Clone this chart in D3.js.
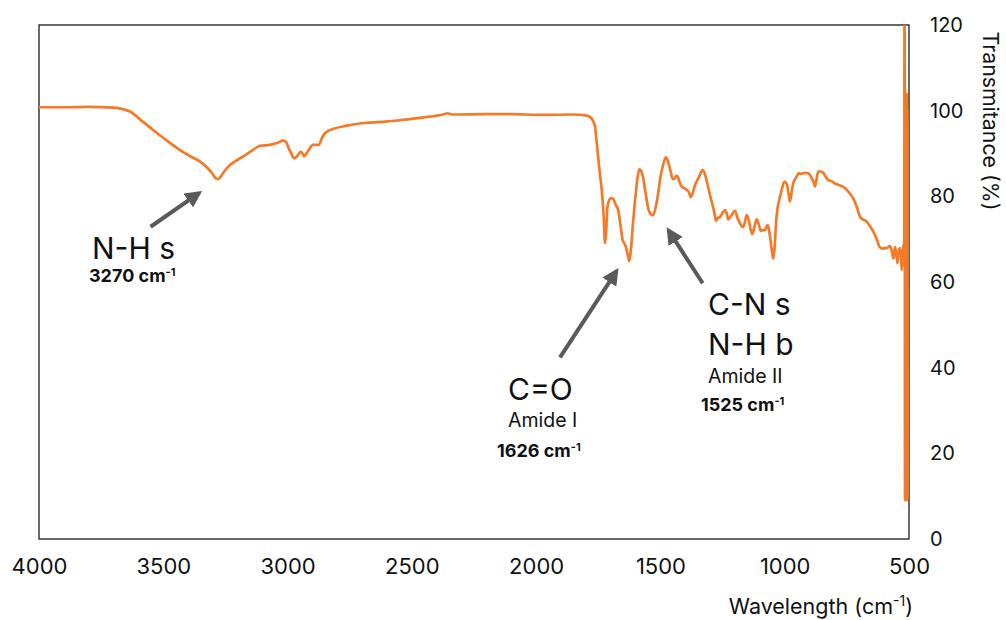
<!DOCTYPE html>
<html>
<head>
<meta charset="utf-8">
<script src="https://cdn.jsdelivr.net/npm/d3@7"></script>
<style>
  body { margin: 0; background: #fff; }
  svg { display: block; font-family: Inter, "Noto Sans", sans-serif; }
</style>
</head>
<body>
<svg id="chart" width="1006" height="620"></svg>
<script>
// Spectre FTIR : nombre d'onde (cm-1) et transmittance (%)
var wavenumbers = [
  4000, 3900, 3800, 3700, 3660, 3634, 3590, 3541, 3490, 3433, 3390, 3352, 3320, 3305, 3290, 3281,
  3270, 3255, 3232, 3205, 3179, 3140, 3111, 3071, 3040, 3018, 3005, 2998, 2985, 2974, 2962, 2947,
  2940, 2934, 2915, 2898, 2874, 2862, 2849, 2817, 2760, 2709, 2620, 2560, 2470, 2375, 2355, 2340,
  2200, 2100, 1984, 1852, 1800, 1783, 1770, 1763, 1757, 1751, 1743, 1736, 1728, 1723, 1718, 1714,
  1710, 1700, 1690, 1680, 1670, 1660, 1652, 1645, 1639, 1632, 1625, 1618, 1610, 1602, 1593, 1585,
  1578, 1569, 1559, 1549, 1538, 1529, 1520, 1509, 1500, 1491, 1478, 1470, 1459, 1452, 1445, 1438,
  1432, 1422, 1415, 1405, 1394, 1385, 1378, 1370, 1361, 1345, 1330, 1318, 1307, 1297, 1287, 1281,
  1276, 1268, 1260, 1250, 1240, 1233, 1227, 1215, 1200, 1190, 1180, 1167, 1160, 1153, 1145, 1138,
  1130, 1122, 1113, 1105, 1097, 1087, 1079, 1070, 1064, 1059, 1052, 1046, 1040, 1035, 1028, 1022,
  1012, 1002, 995, 990, 984, 979, 972, 966, 955, 943, 935, 925, 915, 905, 891, 885,
  878, 872, 865, 855, 845, 835, 825, 810, 798, 780, 757, 740, 724, 710, 697, 685,
  670, 657, 643, 630, 617, 607, 597, 587, 577, 570, 563, 556, 551, 547, 541, 536,
  532, 529, 526, 523, 521, 519, 518, 517, 516, 515, 514, 513, 512, 511, 510, 509,
  508, 507, 506, 505
]
var transmittance = [
  100.8, 100.8, 100.9, 100.7, 100.3, 99.8, 97.8, 95.5, 93.2, 90.8, 89.3, 88.1, 86.5, 85.5, 84.3, 84.0,
  84.5, 85.8, 87.3, 88.4, 89.3, 90.8, 91.8, 92.0, 92.5, 93.0, 92.6, 91.6, 90.0, 88.9, 89.3, 90.4,
  90.0, 89.4, 90.8, 92.0, 92.0, 93.6, 94.8, 95.7, 96.5, 97.0, 97.4, 97.7, 98.3, 99.1, 99.4, 99.1,
  99.2, 99.2, 99.0, 99.1, 98.9, 98.5, 97.5, 96.3, 93.0, 89.3, 85.0, 81.5, 75.0, 69.1, 72.0, 77.0,
  78.4, 79.6, 79.4, 78.0, 76.8, 73.0, 69.8, 69.0, 68.2, 66.5, 64.9, 68.0, 74.0, 79.1, 84.0, 86.3,
  86.0, 84.2, 80.5, 77.2, 75.8, 75.6, 77.2, 80.7, 84.5, 86.9, 89.1, 88.2, 85.8, 84.2, 84.0, 84.7,
  84.7, 83.2, 82.3, 81.9, 81.5, 80.9, 79.8, 80.8, 82.6, 84.5, 86.1, 84.6, 81.9, 79.5, 77.2, 75.5,
  74.3, 75.0, 75.2, 76.2, 76.8, 76.0, 74.6, 75.5, 76.6, 75.0, 73.7, 72.8, 74.0, 75.6, 74.5, 72.5,
  71.2, 72.8, 74.6, 73.6, 72.0, 72.1, 72.1, 73.3, 72.5, 70.6, 67.5, 65.5, 68.5, 73.7, 77.5, 79.1,
  81.5, 83.4, 83.2, 82.6, 80.5, 78.8, 81.0, 83.0, 84.3, 85.4, 85.2, 85.4, 85.5, 85.4, 84.2, 83.5,
  82.3, 84.0, 85.8, 85.8, 85.5, 84.6, 83.8, 83.5, 83.0, 82.6, 81.9, 80.8, 79.5, 77.5, 75.2, 74.6,
  74.1, 73.0, 71.7, 70.0, 68.1, 67.8, 67.9, 68.0, 68.4, 67.5, 65.5, 68.2, 66.5, 64.4, 67.2, 67.9,
  65.5, 62.8, 66.0, 68.6, 67.5, 64.0, 125, 106, 9, 104, 11, 101, 10, 98, 12, 104,
  9, 100, 10, 40
]

var xTicks = [4000, 3500, 3000, 2500, 2000, 1500, 1000, 500]
var yTicks = [0, 20, 40, 60, 80, 100, 120]

// Annotations : pointe et queue de flèche en unités de données
var peakLabels = [
  { lines: ['N-H s'], sub: null, value: '3270', tipW: 3355, tipT: 80.8, tailW: 3551, tailT: 72.9 },
  { lines: ['C=O'], sub: 'Amide I', value: '1626', tipW: 1676, tipT: 62.6, tailW: 1904, tailT: 42.4 },
  { lines: ['C-N s', 'N-H b'], sub: 'Amide II', value: '1525', tipW: 1468, tipT: 72.1, tailW: 1330, tailT: 59.7 }
]

// Dimensions du graphique
var width = 1006
var height = 620
var margin = { top: 25, right: 97, bottom: 81, left: 39 }
var graphWidth = width - margin.left - margin.right
var graphHeight = height - margin.top - margin.bottom

var lineColor = '#f47a27'
var arrowColor = '#5a5a5a'

var svg = d3.select('#chart')

var xScale = d3.scaleLinear().domain([4000, 500]).range([0, graphWidth])
var yScale = d3.scaleLinear().domain([0, 120]).range([graphHeight, 0])

var graph = svg.append('g')
  .attr('transform', 'translate(' + margin.left + ',' + margin.top + ')')

svg.append('defs').append('clipPath')
  .attr('id', 'plot-clip')
  .append('rect')
  .attr('width', graphWidth)
  .attr('height', graphHeight)

svg.select('defs').append('marker')
  .attr('id', 'arrow-head')
  .attr('viewBox', '0 0 10 10')
  .attr('refX', 8)
  .attr('refY', 5)
  .attr('markerWidth', 4.2)
  .attr('markerHeight', 4.2)
  .attr('markerUnits', 'strokeWidth')
  .attr('orient', 'auto')
  .append('path')
  .attr('d', 'M0,0 L10,5 L0,10 z')
  .attr('fill', arrowColor)

// Cadre
graph.append('rect')
  .attr('width', graphWidth)
  .attr('height', graphHeight)
  .attr('fill', 'none')
  .attr('stroke', '#1a1a1a')
  .attr('stroke-width', 1.3)

// Courbe
var points = wavenumbers.map(function (w, i) { return { w: w, t: transmittance[i] } })
var line = d3.line()
  .x(function (d) { return xScale(d.w) })
  .y(function (d) { return yScale(d.t) })
  .curve(d3.curveMonotoneX)

graph.append('path')
  .datum(points)
  .attr('clip-path', 'url(#plot-clip)')
  .attr('d', line)
  .attr('fill', 'none')
  .attr('stroke', lineColor)
  .attr('stroke-width', 2.7)
  .attr('stroke-linejoin', 'round')

// Axe des abscisses
var xAxis = graph.append('g')
  .attr('class', 'x-axis')
  .attr('transform', 'translate(0,' + graphHeight + ')')
  .call(d3.axisBottom(xScale).tickValues(xTicks).tickSize(0).tickPadding(19.5).tickFormat(d3.format('d')))
xAxis.select('.domain').remove()
xAxis.selectAll('text').attr('font-size', 22).attr('fill', '#111').attr('font-family', 'Inter, sans-serif')

// Axe des ordonnées à droite
var yAxis = graph.append('g')
  .attr('class', 'y-axis')
  .attr('transform', 'translate(' + graphWidth + ',0)')
  .call(d3.axisRight(yScale).tickValues(yTicks).tickSize(0).tickPadding(21))
yAxis.select('.domain').remove()
yAxis.selectAll('text').attr('font-size', 20).attr('fill', '#111').attr('font-family', 'Inter, sans-serif')

// Titres des axes
var xTitle = svg.append('text')
  .attr('x', 913)
  .attr('y', 614)
  .attr('text-anchor', 'end')
  .attr('font-size', 21.5)
  .attr('fill', '#111')
  .text('Wavelength (cm')
xTitle.append('tspan').attr('dy', -8).attr('font-size', 14).text('-1')
xTitle.append('tspan').attr('dy', 8).text(')')

svg.append('text')
  .attr('transform', 'translate(983,121) rotate(90)')
  .attr('text-anchor', 'middle')
  .attr('font-size', 21.3)
  .attr('fill', '#111')
  .text('Transmitance (%)')

// Flèches
graph.selectAll('.arrow')
  .data(peakLabels)
  .enter()
  .append('line')
  .attr('class', 'arrow')
  .attr('x1', function (d) { return xScale(d.tailW) })
  .attr('y1', function (d) { return yScale(d.tailT) })
  .attr('x2', function (d) { return xScale(d.tipW) })
  .attr('y2', function (d) { return yScale(d.tipT) })
  .attr('stroke', arrowColor)
  .attr('stroke-width', 4)
  .attr('marker-end', 'url(#arrow-head)')

// Libellés des pics
function addValueText (parent, x, y, value) {
  var t = parent.append('text')
    .attr('x', x)
    .attr('y', y)
    .attr('font-size', 18)
    .attr('font-weight', 700)
    .attr('fill', '#111')
    .text(value + ' cm')
  t.append('tspan').attr('dy', -6).attr('font-size', 11).text('-1')
}

var labels = svg.append('g').attr('class', 'peak-labels').attr('fill', '#111')

labels.append('text').attr('x', 92).attr('y', 259).attr('font-size', 30).text(peakLabels[0].lines[0])
addValueText(labels, 89, 282, peakLabels[0].value)

labels.append('text').attr('x', 508).attr('y', 400).attr('font-size', 30).text(peakLabels[1].lines[0])
labels.append('text').attr('x', 508).attr('y', 427).attr('font-size', 19.5).text(peakLabels[1].sub)
addValueText(labels, 497, 457, peakLabels[1].value)

labels.append('text').attr('x', 708).attr('y', 315).attr('font-size', 30).text(peakLabels[2].lines[0])
labels.append('text').attr('x', 708).attr('y', 355).attr('font-size', 30).text(peakLabels[2].lines[1])
labels.append('text').attr('x', 708).attr('y', 383).attr('font-size', 19.5).text(peakLabels[2].sub)
addValueText(labels, 701, 411, peakLabels[2].value)
</script>
</body>
</html>
